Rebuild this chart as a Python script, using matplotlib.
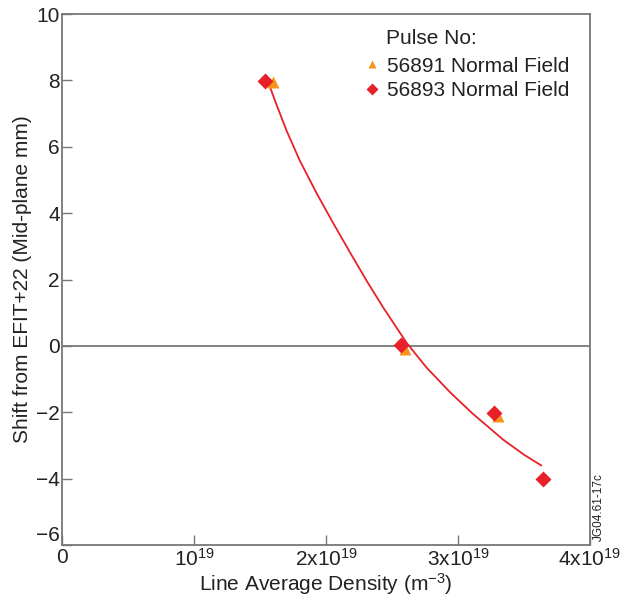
import numpy as np
import matplotlib.pyplot as plt

plt.rcParams['font.family'] = ['Liberation Sans', 'DejaVu Sans']
plt.rcParams['mathtext.fontset'] = 'custom'
plt.rcParams['mathtext.rm'] = 'Liberation Sans'
plt.rcParams['mathtext.it'] = 'Liberation Sans'

# line average density (units of 1e19 m^-3) and shift (mm)
n_56891 = [1.60, 2.60, 3.30]
shift_56891 = [7.95, -0.08, -2.12]
n_56893 = [1.535, 2.565, 3.27, 3.645]
shift_56893 = [7.98, 0.03, -2.02, -4.02]

# fitted trend through both pulses
fit_n = [1.56, 1.62, 1.70, 1.80, 1.93, 2.05, 2.18, 2.31, 2.43,
         2.61, 2.76, 2.94, 3.11, 3.34, 3.50, 3.63]
fit_shift = [7.95, 7.30, 6.48, 5.58, 4.58, 3.72, 2.82, 1.94, 1.17,
             0.09, -0.65, -1.40, -2.04, -2.82, -3.28, -3.60]

xticks = [0, 1, 2, 3, 4]
xticklabels = ['0', r'$\mathregular{10^{19}}$', r'$\mathregular{2x10^{19}}$',
               r'$\mathregular{3x10^{19}}$', r'$\mathregular{4x10^{19}}$']

red = '#e8202a'
orange = '#f7941d'
grey = '#777777'
ink = '#222222'

fig = plt.figure(figsize=(6.21, 5.97), dpi=100)
ax = fig.add_axes([0.1006, 0.0871, 0.8494, 0.8894])

ax.axhline(0, color=grey, lw=1.3, zorder=1)
ax.plot(fit_n, fit_shift, color=red, lw=1.3, zorder=2)
ax.plot(n_56891, shift_56891, '^', color=orange, ms=8, mec='none',
        label='56891 Normal Field', zorder=3)
ax.plot(n_56893, shift_56893, 'D', color=red, ms=8, mec='none',
        label='56893 Normal Field', zorder=4)

ax.set_xlim(0, 4)
ax.set_ylim(-6, 10)
ax.set_yticks(range(-6, 11, 2))
ax.set_xticks(xticks)
ax.set_xticklabels(xticklabels)
ax.tick_params(direction='in', length=7.5, width=1, color=grey,
               labelsize=15, pad=2, labelcolor=ink)
for s in ax.spines.values():
    s.set_color(grey)
    s.set_linewidth(1.3)
# lift the bottom y label clear of the x-axis "0"
ax.get_yticklabels()[0].set_verticalalignment('bottom')

ax.set_xlabel('Line Average Density (m$^{\\mathregular{\u22123}}$)',
              fontsize=15, color=ink, labelpad=1)
ax.set_ylabel('Shift from EFIT+22 (Mid-plane mm)', fontsize=15,
              color=ink, labelpad=3)

ax.text(0.614, 0.971, 'Pulse No:', transform=ax.transAxes, fontsize=15,
        color=ink, ha='left', va='top')
leg = ax.legend(loc='upper left', bbox_to_anchor=(0.543, 0.947),
                frameon=False, fontsize=15, handlelength=0.8,
                handletextpad=0.35, labelspacing=0.25, markerscale=0.75,
                borderpad=0.2, labelcolor=ink)

fig.text(0.955, 0.094, 'JG04.61-17c', rotation=90,
         fontsize=8.5, color=ink, ha='left', va='bottom')

fig.savefig('out.png', dpi=100)
